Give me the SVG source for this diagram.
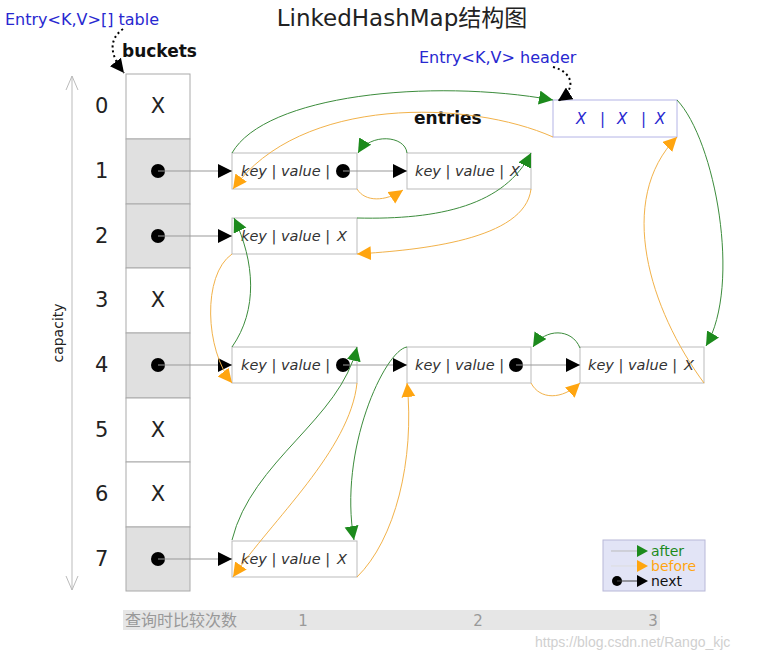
<svg xmlns="http://www.w3.org/2000/svg" width="763" height="659" viewBox="0 0 763 659">
<style>
.bk{stroke:#aaa;stroke-width:1}
.g{fill:#e0e0e0}
.w{fill:#fff}
.idx{font-family:"DejaVu Sans",sans-serif;font-size:21px;fill:#222}
.bx{font-family:"DejaVu Sans",sans-serif;font-size:21px;fill:#222;text-anchor:middle}
.ent{fill:#fff;stroke:#bbb;stroke-width:1}
.et{font-family:"DejaVu Sans",sans-serif;font-size:14.5px;font-style:italic;fill:#333}
.nx{stroke:#999;stroke-width:1;fill:none;marker-end:url(#blk)}
.af{stroke:#3c8c3c;stroke-width:1;fill:none;marker-end:url(#ga)}
.bf{stroke:#f2b24a;stroke-width:1;fill:none;marker-end:url(#oa)}
.blue{font-family:"DejaVu Sans",sans-serif;font-size:16px;fill:#2828d0}
.bold{font-family:"DejaVu Sans",sans-serif;font-size:17px;font-weight:bold;fill:#111}
.lg{font-family:"DejaVu Sans",sans-serif;font-size:14px}
</style>
<defs>
<marker id="blk" markerWidth="14" markerHeight="14" refX="14" refY="7" orient="auto" markerUnits="userSpaceOnUse"><path d="M0,0 L14,7 L0,14 z" fill="#000"/></marker>
<marker id="ga" markerWidth="15" markerHeight="15" refX="14" refY="7" orient="auto" markerUnits="userSpaceOnUse"><path d="M0,0 L14,7 L0,14 z" fill="#1c8a1c"/></marker>
<marker id="oa" markerWidth="15" markerHeight="15" refX="14" refY="7" orient="auto" markerUnits="userSpaceOnUse"><path d="M0,0 L14,7 L0,14 z" fill="#ffa510"/></marker>
</defs>
<rect width="763" height="659" fill="#fff"/>

<text x="402" y="26" text-anchor="middle" font-family="DejaVu Sans, Noto Sans CJK SC, sans-serif" font-size="23" fill="#222">LinkedHashMap结构图</text>
<text x="5" y="25" class="blue">Entry&lt;K,V&gt;[] table</text>
<text x="419" y="63" class="blue">Entry&lt;K,V&gt; header</text>
<text x="122" y="57" class="bold">buckets</text>
<text x="414" y="124" class="bold">entries</text>

<g id="capacity">
<line x1="72" y1="590" x2="72" y2="76" stroke="#bbb" stroke-width="1"/>
<path d="M66,90 L72,76 L78,90" fill="none" stroke="#bbb"/>
<path d="M66,576 L72,590 L78,576" fill="none" stroke="#bbb"/>
<text x="63" y="333" transform="rotate(-90 63 333)" text-anchor="middle" font-family="DejaVu Sans, sans-serif" font-size="14" fill="#222">capacity</text>
</g>

<g id="buckets">
<rect x="126" y="74" width="64" height="65" class="w bk"/>
<rect x="126" y="139" width="64" height="65" class="g bk"/>
<rect x="126" y="204" width="64" height="64" class="g bk"/>
<rect x="126" y="268" width="64" height="65" class="w bk"/>
<rect x="126" y="333" width="64" height="65" class="g bk"/>
<rect x="126" y="398" width="64" height="64" class="w bk"/>
<rect x="126" y="462" width="64" height="65" class="w bk"/>
<rect x="126" y="527" width="64" height="64" class="g bk"/>
<text x="158" y="113" class="bx">X</text>
<text x="158" y="307" class="bx">X</text>
<text x="158" y="437" class="bx">X</text>
<text x="158" y="501" class="bx">X</text>
<circle cx="158" cy="171" r="7" fill="#000"/>
<circle cx="158" cy="236" r="7" fill="#000"/>
<circle cx="158" cy="365" r="7" fill="#000"/>
<circle cx="158" cy="559" r="7" fill="#000"/>
<text x="95" y="113" class="idx">0</text>
<text x="95" y="178" class="idx">1</text>
<text x="95" y="243" class="idx">2</text>
<text x="95" y="307" class="idx">3</text>
<text x="95" y="372" class="idx">4</text>
<text x="95" y="437" class="idx">5</text>
<text x="95" y="501" class="idx">6</text>
<text x="95" y="566" class="idx">7</text>
</g>

<g id="header">
<rect x="553" y="100" width="124" height="37" fill="#fff" stroke="#b4b4e6"/>
<g font-family="DejaVu Sans, sans-serif" font-size="15" font-style="italic" fill="#2828d0">
<text x="576" y="124">X</text><text x="600" y="124">|</text><text x="617" y="124">X</text><text x="641" y="124">|</text><text x="655" y="124">X</text>
</g>
</g>

<g id="entry-1a">
<rect x="232" y="153" width="125" height="36" class="ent"/>
<text x="241" y="176" class="et">key | value |</text>
<circle cx="343" cy="171" r="7" fill="#000"/>
</g>
<g id="entry-1b">
<rect x="407" y="153" width="124" height="36" class="ent"/>
<text x="415" y="176" class="et">key | value |</text>
<text x="510" y="176" class="et">X</text>
</g>
<g id="entry-2">
<rect x="232" y="218" width="125" height="36" class="ent"/>
<text x="241" y="241" class="et">key | value |</text>
<text x="337" y="241" class="et">X</text>
</g>
<g id="entry-4a">
<rect x="232" y="347" width="125" height="36" class="ent"/>
<text x="241" y="370" class="et">key | value |</text>
<circle cx="343" cy="365" r="7" fill="#000"/>
</g>
<g id="entry-4b">
<rect x="407" y="347" width="124" height="36" class="ent"/>
<text x="415" y="370" class="et">key | value |</text>
<circle cx="516" cy="365" r="7" fill="#000"/>
</g>
<g id="entry-4c">
<rect x="580" y="347" width="124" height="36" class="ent"/>
<text x="588" y="370" class="et">key | value |</text>
<text x="684" y="370" class="et">X</text>
</g>
<g id="entry-7">
<rect x="232" y="541" width="125" height="36" class="ent"/>
<text x="241" y="564" class="et">key | value |</text>
<text x="337" y="564" class="et">X</text>
</g>

<g id="connectors">
<line x1="158" y1="171" x2="232" y2="171" class="nx"/>
<line x1="158" y1="236" x2="232" y2="236" class="nx"/>
<line x1="158" y1="365" x2="232" y2="365" class="nx"/>
<line x1="158" y1="559" x2="232" y2="559" class="nx"/>
<line x1="343" y1="171" x2="407" y2="171" class="nx"/>
<line x1="343" y1="365" x2="407" y2="365" class="nx"/>
<line x1="516" y1="365" x2="580" y2="365" class="nx"/>
<path d="M232,153 C265,95 430,78 553,100" class="af"/>
<path d="M677,100 C715,140 742,285 706,346" class="af"/>
<path d="M580,348 C572,328 545,328 533,347" class="af"/>
<path d="M407,347 C385,350 338,450 354,540" class="af"/>
<path d="M232,540 C252,460 340,420 357,347" class="af"/>
<path d="M232,347 C258,310 255,262 234,218" class="af"/>
<path d="M357,218 C440,220 505,205 531,153" class="af"/>
<path d="M407,153 C405,135 370,133 358,153" class="af"/>
<path d="M553,137 C470,100 300,95 233,189" class="bf"/>
<path d="M357,189 C365,202 385,202 403,190" class="bf"/>
<path d="M531,189 C525,240 420,250 357,254" class="bf"/>
<path d="M232,254 C202,275 205,350 232,383" class="bf"/>
<path d="M357,383 C350,450 272,520 233,577" class="bf"/>
<path d="M357,577 C395,540 415,460 407,383" class="bf"/>
<path d="M531,383 C540,400 562,400 580,383" class="bf"/>
<path d="M704,383 C650,310 615,200 677,137" class="bf"/>
<path d="M123,29 C108,40 110,55 124,73" fill="none" stroke="#000" stroke-width="2" stroke-dasharray="2,3" marker-end="url(#blk)"/>
<path d="M553,67 C572,72 578,88 558,101" fill="none" stroke="#000" stroke-width="2" stroke-dasharray="2,3" marker-end="url(#blk)"/>
</g>

<g id="legend">
<rect x="603" y="540" width="102" height="51" fill="#e2e4f6" stroke="#b8b8d8"/>
<line x1="611" y1="551" x2="638" y2="551" stroke="#bbb"/>
<path d="M637,545 L648,551 L637,557 z" fill="#1c8a1c"/>
<text x="651" y="556" class="lg" fill="#1c8a1c">after</text>
<line x1="611" y1="566" x2="638" y2="566" stroke="#ddd"/>
<path d="M637,560 L648,566 L637,572 z" fill="#ffa510"/>
<text x="651" y="571" class="lg" fill="#ffa510">before</text>
<circle cx="617" cy="581" r="5" fill="#000"/>
<line x1="617" y1="581" x2="638" y2="581" stroke="#444"/>
<path d="M637,575 L648,581 L637,587 z" fill="#000"/>
<text x="651" y="586" class="lg" fill="#111">next</text>
</g>

<g id="compare-bar">
<rect x="123" y="610" width="537" height="20" fill="#e6e6e6"/>
<text x="125" y="626" font-family="Noto Sans CJK SC, sans-serif" font-size="16" fill="#999">查询时比较次数</text>
<text x="303" y="626" text-anchor="middle" font-family="DejaVu Sans, sans-serif" font-size="15" fill="#999">1</text>
<text x="478" y="626" text-anchor="middle" font-family="DejaVu Sans, sans-serif" font-size="15" fill="#999">2</text>
<text x="653" y="626" text-anchor="middle" font-family="DejaVu Sans, sans-serif" font-size="15" fill="#999">3</text>
</g>
<text x="535" y="647" font-family="Liberation Sans, sans-serif" font-size="14" fill="#d0d0d0">https://blog.csdn.net/Rango_kjc</text>
</svg>
